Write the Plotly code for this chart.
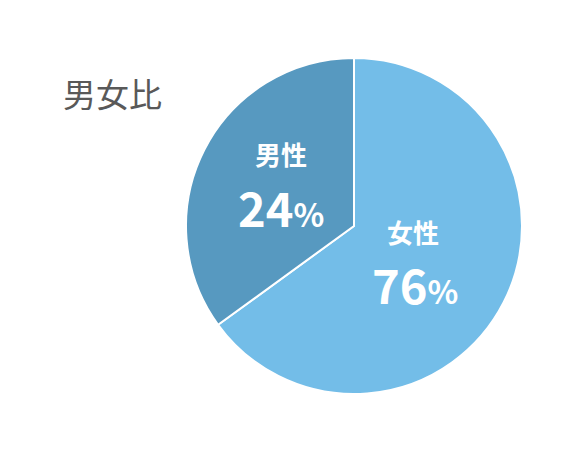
import plotly.graph_objects as go

# slice data (drawn shares, labels as printed)
categories = ["女性", "男性"]
shares = [65, 35]
pct_labels = ["76", "24"]
colors = ["#73BDE8", "#5799C0"]
title_text = "男女比"

W, H = 570, 452
OFF = 8  # page margin offset of the rendered div
FONT = "Noto Sans CJK JP"


def px(x, y):
    return (x - OFF) / W, 1 - (y - OFF) / H


x0, y1 = px(186, 58)
x1, y0 = px(522, 394)

fig = go.Figure(
    go.Pie(
        labels=categories,
        values=shares,
        sort=False,
        direction="clockwise",
        rotation=0,
        marker=dict(colors=colors, line=dict(color="white", width=2)),
        textinfo="none",
        hoverinfo="label+percent",
        domain=dict(x=[x0, x1], y=[y0, y1]),
        showlegend=False,
    )
)

# label positions (px, centre) for each slice: name, then percentage
label_pos = {"女性": ((413, 231), (415, 283)), "男性": ((281, 153), (281, 206))}

for cat, pct in zip(categories, pct_labels):
    (nx, ny), (qx, qy) = label_pos[cat]
    ax, ay = px(nx, ny)
    fig.add_annotation(
        x=ax, y=ay, xref="paper", yref="paper",
        text="<b>%s</b>" % cat, showarrow=False,
        font=dict(family=FONT, size=26, color="white"),
        xanchor="center", yanchor="middle",
    )
    ax, ay = px(qx, qy)
    fig.add_annotation(
        x=ax, y=ay, xref="paper", yref="paper",
        text='<b>%s<span style="font-size:32px">%%</span></b>' % pct,
        showarrow=False,
        font=dict(family=FONT, size=47, color="white"),
        xanchor="center", yanchor="middle",
    )

ax, ay = px(112, 93)
fig.add_annotation(
    x=ax, y=ay, xref="paper", yref="paper",
    text=title_text, showarrow=False,
    font=dict(family=FONT, size=33, color="#595959"),
    xanchor="center", yanchor="middle",
)

fig.update_layout(
    width=W, height=H,
    margin=dict(l=0, r=0, t=0, b=0),
    paper_bgcolor="white",
    plot_bgcolor="white",
)

fig.write_html("out.html")
